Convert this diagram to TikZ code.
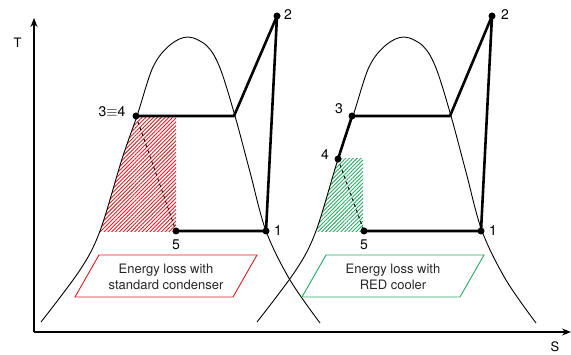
\documentclass[tikz,border=0pt]{standalone}
\usepackage{fontspec}
\setmainfont{TeX Gyre Heros}
\usetikzlibrary{patterns.meta,arrows.meta}
\definecolor{lossred}{RGB}{228,28,36}
\definecolor{lossgreen}{RGB}{40,172,100}
\begin{document}
\begin{tikzpicture}[x=1pt,y=-1pt,
  dome/.style={line width=0.9pt},
  cycleline/.style={line width=2.6pt, line join=round},
  dotmark/.style={circle,fill=black,inner sep=0pt,minimum size=7pt},
  lbl/.style={font=\fontsize{14}{16}\selectfont, inner sep=1pt},
  axlbl/.style={font=\fontsize{13}{15}\selectfont, inner sep=0pt},
  lossbox/.style={line width=0.9pt},
  losstext/.style={font=\fontsize{13}{15.7}\selectfont, align=center, text=black!85},
  axisline/.style={line width=1.3pt, -{Stealth[length=9pt,width=7pt]}},
  dashline/.style={line width=0.9pt, dash pattern=on 3pt off 3pt},
  hatch/.style={pattern={Lines[angle=45,distance=2.7pt,line width=0.9pt]}},
  ]
\useasboundingbox (0,0) rectangle (571,355);

% axes
\coordinate (origin) at (34,332);
\coordinate (ytip) at (34,18);
\coordinate (xtip) at (571,332);
\draw[axisline] (origin) -- (ytip);
\draw[axisline] (origin) -- (xtip);
\node[axlbl] (T) at (17.5,42.5) {T};
\node[axlbl] (S) at (555,347) {S};

% ---------- left dome ----------
\begin{scope}
  \clip plot[smooth,tension=0.55] coordinates {(41,322) (80,270) (100,231) (122,159) (137,116) (153,67) (170,45) (188,37) (207,46) (220,68) (235,116) (250,172) (266,231) (290,280) (320,323)} -- cycle;
  \fill[hatch, pattern color=lossred] (0,116) rectangle (176,232);
\end{scope}
\draw[dome] plot[smooth,tension=0.55] coordinates {(41,322) (80,270) (100,231) (122,159) (137,116) (153,67) (170,45) (188,37) (207,46) (220,68) (235,116) (250,172) (266,231) (290,280) (320,323)};

% ---------- right dome ----------
\begin{scope}[shift={(216,0)}]
  \begin{scope}
    \clip plot[smooth,tension=0.55] coordinates {(41,322) (80,270) (100,231) (122,159) (137,116) (153,67) (170,45) (188,37) (207,46) (220,68) (235,116) (250,172) (266,231) (290,280) (320,323)} -- cycle;
    \fill[hatch, pattern color=lossgreen] (0,159) rectangle (147,232);
  \end{scope}
  \draw[dome] plot[smooth,tension=0.55] coordinates {(41,322) (80,270) (100,231) (122,159) (137,116) (153,67) (170,45) (188,37) (207,46) (220,68) (235,116) (250,172) (266,231) (290,280) (320,323)};
\end{scope}

% ---------- left cycle ----------
\coordinate (L34) at (136,116);
\coordinate (La) at (234,116);
\coordinate (L2) at (277,16);
\coordinate (L1) at (266,231);
\coordinate (L5) at (176,231);
\draw[dashline] (L34) -- (L5);
\draw[cycleline] (L34) -- (La) -- (L2) -- (L1) -- (L5);
\foreach \p in {L34,L2,L1,L5} \node[dotmark] at (\p) {};
\node[lbl] (lL34) at (112,112) {3$\equiv$4};
\node[lbl,anchor=west] (lL2) at (283,15) {2};
\node[lbl,anchor=west] (lL1) at (273,231) {1};
\node[lbl] (lL5) at (176,245) {5};

% ---------- right cycle ----------
\coordinate (R3) at (352,116);
\coordinate (R4) at (338,159);
\coordinate (Ra) at (450,116);
\coordinate (R2) at (492,16);
\coordinate (R1) at (481,231);
\coordinate (R5) at (364,231);
\draw[dashline] (R4) -- (R5);
\draw[cycleline] (R4) -- (R3) -- (Ra) -- (R2) -- (R1) -- (R5);
\foreach \p in {R3,R4,R2,R1,R5} \node[dotmark] at (\p) {};
\node[lbl] (lR3) at (339,109) {3};
\node[lbl] (lR4) at (325,155) {4};
\node[lbl,anchor=west] (lR2) at (500,15) {2};
\node[lbl,anchor=west] (lR1) at (488,231) {1};
\node[lbl] (lR5) at (364,245) {5};

% ---------- loss boxes ----------
\coordinate (bl1) at (75,297);
\coordinate (bl2) at (233,297);
\coordinate (bl3) at (257,255);
\coordinate (bl4) at (99,255);
\draw[lossbox, lossred] (bl1) -- (bl2) -- (bl3) -- (bl4) -- cycle;
\node[losstext] (tl) at (166,277) {Energy loss with\\standard condenser};

\coordinate (br1) at (302,297);
\coordinate (br2) at (460,297);
\coordinate (br3) at (484,255);
\coordinate (br4) at (326,255);
\draw[lossbox, lossgreen] (br1) -- (br2) -- (br3) -- (br4) -- cycle;
\node[losstext] (tr) at (393,277) {Energy loss with\\RED cooler};
\end{tikzpicture}
\end{document}
